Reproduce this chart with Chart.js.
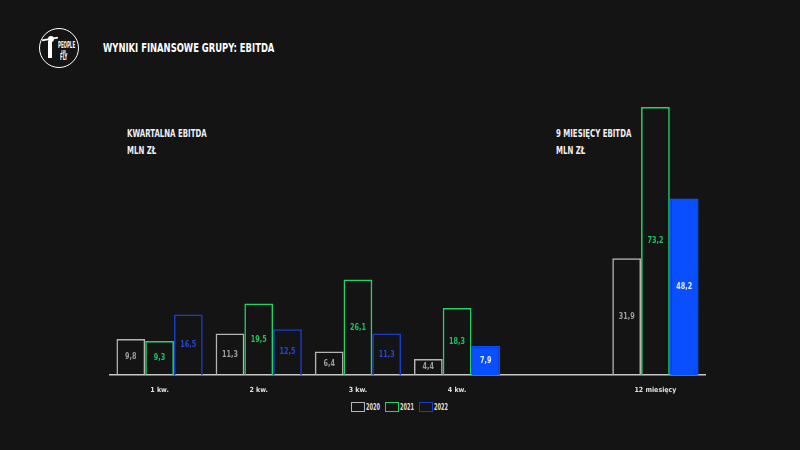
<!DOCTYPE html>
<html><head><meta charset="utf-8">
<script src="https://cdn.jsdelivr.net/npm/chart.js@4/dist/chart.umd.min.js"></script>
<style>
html,body{margin:0;padding:0;background:#141414;}
#wrap{position:relative;width:800px;height:450px;background:#141414;overflow:hidden;font-family:"DejaVu Sans Condensed","DejaVu Sans",sans-serif;font-weight:bold;color:#fff;}
canvas{position:absolute;left:0;top:0;}
.t{position:absolute;white-space:nowrap;transform-origin:0 0;}
#title{left:103px;top:40px;font-size:13px;transform:scaleX(0.72);}
.sub{font-size:10.5px;line-height:17px;transform:scaleX(0.74);color:#f0f0f0;}
#logo{position:absolute;left:39px;top:28px;width:38px;height:38px;border:1.8px solid #fff;border-radius:50%;}
#logo span{position:absolute;font-size:8px;line-height:8px;transform-origin:0 0;transform:scaleX(0.55);}
#logo b{position:absolute;background:#fff;}
#legend{position:absolute;top:402px;left:351px;font-size:8px;display:flex;gap:3px;align-items:center;color:#ddd;}
#legend span{display:inline-block;white-space:nowrap;}
#legend em{font-style:normal;display:inline-block;transform:scaleX(0.7);transform-origin:0 50%;width:16px;}
#legend i{display:inline-block;width:12px;height:8px;border:1.5px solid;margin-right:1px;vertical-align:middle;}
</style></head>
<body><div id="wrap">
<div id="logo">
<b style="left:2px;top:9px;width:16px;height:2px;transform:rotate(-10deg)"></b>
<b style="left:8px;top:7px;width:6px;height:6px;border-radius:50%"></b>
<b style="left:8px;top:12px;width:4px;height:17px"></b>
<span style="left:18px;top:13px">PEOPLE</span><span style="left:21px;top:21px;font-size:4px;line-height:4px">CAN</span><span style="left:20px;top:25px">FLY</span></div>
<div id="title" class="t">WYNIKI FINANSOWE GRUPY: EBITDA</div>
<div class="t sub" style="left:127px;top:125px">KWARTALNA EBITDA<br>MLN ZŁ</div>
<div class="t sub" style="left:556px;top:125px">9 MIESIĘCY EBITDA<br>MLN ZŁ</div>
<div id="legend"><span><i style="border-color:#b5b5b5"></i><em>2020</em></span><span><i style="border-color:#22d468"></i><em>2021</em></span><span><i style="border-color:#1a3cc8"></i><em>2022</em></span></div>
<canvas id="c" width="800" height="450"></canvas>
</div>
<script>
const categories = ['1 kw.', '2 kw.', '3 kw.', '4 kw.', '', '12 miesięcy'];
const years = ['2020', '2021', '2022'];
const values2020 = [9.8, 11.3, 6.4, 4.4, null, 31.9];
const values2021 = [9.3, 19.5, 26.1, 18.3, null, 73.2];
const values2022 = [16.5, 12.5, 11.3, 7.9, null, 48.2];
const filled2022 = [false, false, false, true, false, true];

const fmt = v => String(v).replace('.', ',');
const blueFill = '#0a4fff';
const FONT = '"DejaVu Sans Condensed","DejaVu Sans",sans-serif';

const labelPlugin = {
  id: 'barLabels',
  afterDatasetsDraw(chart) {
    const ctx = chart.ctx;
    chart.data.datasets.forEach((ds, di) => {
      const meta = chart.getDatasetMeta(di);
      meta.data.forEach((bar, i) => {
        const v = ds.data[i];
        if (v == null) return;
        let col = ds.labelColor;
        if (di === 2 && filled2022[i]) col = '#e8ecff';
        ctx.save();
        ctx.translate(bar.x, (bar.y + bar.base) / 2);
        ctx.scale(0.8, 1);
        ctx.font = 'bold 9px ' + FONT;
        ctx.textAlign = 'center';
        ctx.textBaseline = 'middle';
        ctx.fillStyle = col;
        ctx.fillText(fmt(v), 0, 0);
        ctx.restore();
      });
    });
  }
};

new Chart(document.getElementById('c'), {
  type: 'bar',
  data: {
    labels: categories,
    datasets: [
      { label: years[0], data: values2020, backgroundColor: 'rgba(0,0,0,0)', borderColor: '#b5b5b5', borderWidth: 1.5, labelColor: '#9c9c9c' },
      { label: years[1], data: values2021, backgroundColor: 'rgba(0,0,0,0)', borderColor: '#22d468', borderWidth: 1.5, labelColor: '#1fc060' },
      { label: years[2], data: values2022, backgroundColor: filled2022.map(f => f ? blueFill : 'rgba(0,0,0,0)'), borderColor: filled2022.map(f => f ? blueFill : '#1a3cc8'), borderWidth: 1.5, labelColor: '#2346d8' }
    ]
  },
  options: {
    responsive: false,
    animation: false,
    layout: { padding: { left: 110, right: 95, top: 82, bottom: 55 } },
    plugins: { legend: { display: false }, tooltip: { enabled: false } },
    datasets: { bar: { categoryPercentage: 0.87, barPercentage: 1.0, skipNull: true } },
    scales: {
      x: {
        grid: { display: false },
        border: { color: '#c8c8c8', width: 1.5 },
        ticks: { color: '#e0e0e0', font: { family: FONT, size: 7, weight: 'bold' }, padding: 3, maxRotation: 0 },
        afterFit: s => { s.height = 20; }
      },
      y: { display: false, min: 0, max: 80 }
    }
  },
  plugins: [labelPlugin]
});
</script>
</body></html>
